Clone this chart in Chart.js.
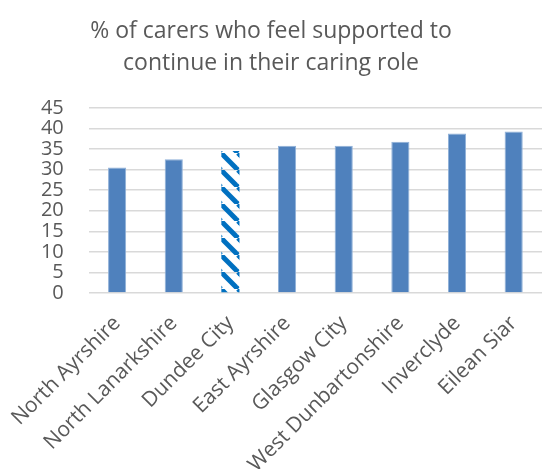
<!DOCTYPE html>
<html>
<head>
<meta charset="utf-8">
<script src="https://cdn.jsdelivr.net/npm/chart.js@4.4.0/dist/chart.umd.min.js"></script>
<style>
  body { margin: 0; background: #fff; }
  #chart { display: block; }
</style>
</head>
<body>
<canvas id="chart" width="542" height="469"></canvas>
<script>
/*---------- Data ----------------*/
const councils = [
  "North Ayrshire",
  "North Lanarkshire",
  "Dundee City",
  "East Ayrshire",
  "Glasgow City",
  "West Dunbartonshire",
  "Inverclyde",
  "Eilean Siar",
];
const supported = [30.5, 32.5, 34.5, 35.8, 35.8, 36.8, 38.8, 39.3];
const highlighted = "Dundee City";
const titleLines = ["% of carers who feel supported to", "continue in their caring role"];

const textGrey = "#595959";
const barBlue = "#4f81bd";

// diagonal stripe pattern for the highlighted bar
function stripePattern(ctx) {
  const tile = document.createElement("canvas");
  tile.width = 17;
  tile.height = 17;
  const t = tile.getContext("2d");
  t.strokeStyle = "#0070c0";
  t.lineWidth = 5;
  for (let off = -17; off <= 17; off += 17) {
    t.beginPath();
    t.moveTo(off, 0);
    t.lineTo(off + 17, 17);
    t.stroke();
  }
  return ctx.createPattern(tile, "repeat");
}

const canvas = document.getElementById("chart");
const ctx = canvas.getContext("2d");
const stripes = stripePattern(ctx);

const fills = councils.map((c) => (c === highlighted ? stripes : barBlue));
const borders = councils.map((c) => (c === highlighted ? 0 : 1));

/*---------- Chart ----------------*/
new Chart(canvas, {
  type: "bar",
  data: {
    labels: councils,
    datasets: [
      {
        data: supported,
        backgroundColor: fills,
        borderColor: "#8fb0d8",
        borderWidth: borders,
        categoryPercentage: 1,
        barPercentage: 0.32,
      },
    ],
  },
  options: {
    responsive: false,
    animation: false,
    layout: { padding: { left: 0, right: 0, top: 0, bottom: 0 } },
    plugins: {
      legend: { display: false },
      tooltip: { enabled: false },
      title: {
        display: true,
        text: titleLines,
        color: textGrey,
        font: { family: "'Open Sans'", size: 23, weight: "normal", lineHeight: 1.39 },
        padding: { top: 15, bottom: 29 },
      },
    },
    scales: {
      x: {
        grid: { display: false },
        border: { display: false },
        ticks: {
          color: textGrey,
          font: { family: "'Open Sans'", size: 21 },
          maxRotation: 45,
          minRotation: 45,
          autoSkip: false,
          padding: 10,
        },
        afterFit: (scale) => {
          scale.height = 176;
        },
      },
      y: {
        min: 0,
        max: 45,
        grid: { color: "#d9d9d9", lineWidth: 1.5, drawTicks: false },
        border: { display: false },
        ticks: {
          stepSize: 5,
          autoSkip: false,
          color: textGrey,
          font: { family: "'Open Sans'", size: 20, lineHeight: 1 },
          padding: 25,
        },
        afterFit: (scale) => {
          scale.width = 87;
        },
      },
    },
  },
});
</script>
</body>
</html>
